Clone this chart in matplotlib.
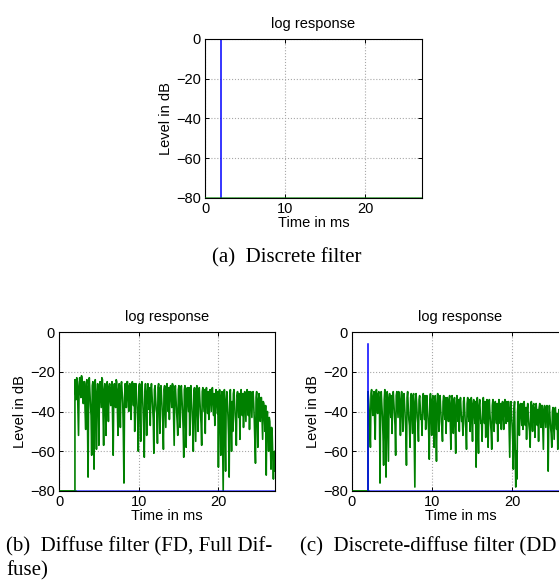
"""Log responses of discrete, diffuse and discrete-diffuse filters."""

import numpy as np
import matplotlib
matplotlib.use("Agg")
import matplotlib.pyplot as plt

plt.rcParams["font.family"] = ["Liberation Sans", "DejaVu Sans"]
plt.rcParams["font.size"] = 10

# ---- data (levels in dB) ----
FLOOR = -80.0          # level floor of the plot (values below are clipped)
T_END = 27.1           # length of the shown response, ms
T_IMPULSE = 2.0        # arrival of the direct / discrete impulse, ms
PEAK_A = 0.0           # discrete impulse level, filter (a)
PEAK_C = -6.0          # discrete impulse level, filter (c)
DT = 0.075             # sample spacing of the diffuse tails, ms

# diffuse tail, full diffuse filter (b), from T_IMPULSE on
diffuse_b = [
    -24, -30, -34, -23, -25, -38, -52, -27, -23, -29, -33, -22, -24, -31, -36, -25, -25, -40, -49, -26,
    -24, -45, -73, -28, -23, -30, -37, -42, -62, -27, -25, -50, -69, -26, -24, -38, -59, -31, -26, -33,
    -57, -30, -25, -32, -38, -23, -24, -41, -57, -29, -26, -37, -52, -27, -25, -33, -45, -28, -26, -34,
    -37, -28, -25, -44, -62, -30, -26, -33, -38, -24, -25, -39, -52, -29, -26, -36, -48, -27, -25, -31,
    -36, -52, -76, -33, -26, -31, -38, -25, -25, -34, -40, -27, -26, -35, -44, -28, -25, -30, -37, -26,
    -50, -29, -26, -32, -38, -45, -60, -28, -26, -39, -55, -27, -25, -32, -39, -48, -63, -30, -26, -34,
    -52, -31, -26, -33, -39, -28, -47, -30, -26, -32, -38, -44, -61, -29, -27, -34, -39, -41, -56, -28,
    -26, -36, -51, -28, -27, -33, -39, -46, -59, -29, -27, -38, -48, -28, -26, -33, -40, -28, -44, -30,
    -27, -32, -38, -26, -27, -42, -57, -30, -27, -34, -40, -45, -52, -29, -27, -38, -48, -31, -27, -33,
    -40, -48, -63, -29, -27, -43, -58, -31, -28, -34, -40, -28, -52, -30, -27, -35, -41, -47, -60, -30,
    -28, -41, -55, -29, -27, -38, -50, -30, -28, -35, -41, -46, -57, -30, -28, -34, -40, -29, -51, -31,
    -28, -34, -41, -30, -44, -32, -29, -35, -40, -29, -28, -36, -42, -31, -47, -33, -29, -35, -41, -30,
    -68, -38, -29, -44, -62, -33, -30, -55, -80, -35, -29, -48, -70, -34, -30, -36, -42, -52, -73, -32,
    -29, -44, -60, -35, -50, -31, -29, -36, -42, -46, -57, -32, -30, -37, -43, -31, -54, -34, -29, -35,
    -42, -31, -48, -33, -30, -38, -45, -31, -29, -37, -42, -30, -49, -34, -30, -36, -43, -31, -30, -36,
    -44, -55, -66, -33, -30, -42, -58, -34, -31, -39, -45, -33, -33, -44, -54, -35, -36, -42, -50, -37,
    -72, -44, -40, -51, -60, -43, -45, -58, -69, -48, -52, -64, -74, -62, -60, -70,
]

# diffuse tail, discrete-diffuse filter (c), from T_IMPULSE on
diffuse_c = [
    -30, -34, -40, -48, -58, -31, -29, -36, -42, -33, -30, -44, -54, -32, -29, -37, -41, -31, -30, -35,
    -76, -38, -30, -36, -43, -52, -67, -34, -29, -48, -73, -35, -30, -47, -65, -33, -31, -38, -43, -32,
    -51, -33, -30, -36, -42, -47, -62, -32, -30, -37, -43, -30, -31, -40, -52, -34, -30, -39, -50, -32,
    -31, -37, -43, -50, -67, -33, -30, -38, -44, -47, -58, -33, -31, -42, -51, -32, -31, -55, -78, -35,
    -31, -36, -43, -46, -55, -34, -32, -38, -44, -42, -52, -33, -31, -37, -44, -32, -49, -35, -32, -39,
    -44, -50, -64, -35, -31, -41, -52, -34, -32, -45, -58, -35, -32, -48, -65, -36, -31, -38, -50, -34,
    -32, -38, -45, -48, -55, -35, -32, -39, -44, -33, -51, -36, -33, -40, -45, -34, -32, -46, -59, -36,
    -32, -42, -51, -35, -33, -47, -61, -37, -32, -39, -45, -34, -50, -36, -33, -40, -45, -43, -52, -35,
    -33, -39, -46, -49, -59, -36, -33, -40, -45, -34, -50, -37, -33, -44, -55, -36, -34, -41, -46, -35,
    -68, -40, -33, -47, -61, -37, -34, -41, -46, -45, -55, -36, -33, -40, -46, -35, -53, -38, -34, -42,
    -58, -38, -34, -41, -46, -50, -59, -37, -34, -43, -50, -36, -35, -42, -46, -36, -55, -39, -34, -41,
    -46, -36, -49, -38, -35, -43, -49, -36, -34, -41, -46, -35, -45, -39, -35, -48, -63, -38, -35, -42,
    -47, -55, -69, -39, -35, -55, -78, -60, -74, -40, -35, -44, -52, -37, -36, -42, -47, -36, -49, -38,
    -35, -42, -47, -38, -54, -39, -36, -43, -47, -50, -58, -38, -35, -44, -50, -37, -36, -45, -53, -38,
    -36, -42, -47, -39, -55, -38, -36, -44, -48, -37, -37, -48, -59, -39, -37, -43, -48, -38, -37, -44,
    -70, -44, -37, -43, -48, -51, -58, -40, -38, -46, -54, -39, -38, -45, -49, -41, -59, -42, -39, -47,
    -55, -44, -42, -53, -62, -47, -48, -60, -70, -52, -55, -66, -75, -63, -65, -72,
]

X_TICKS = [0, 10, 20]
Y_TICKS = [0, -20, -40, -60, -80]

GREEN = "#008000"
BLUE = "#0000ff"

W, H = 559, 583


def tail(values):
    """Diffuse tail preceded by the silent part before the first arrival."""
    t = T_IMPULSE + DT * np.arange(len(values))
    x = np.concatenate([[0.0, T_IMPULSE], t])
    y = np.concatenate([[FLOOR, FLOOR], values])
    return x, y


def floor_line(ax, start, end, color):
    # parts sitting at the level floor lie on the bottom spine
    ax.plot([start, end], [FLOOR, FLOOR], color=color, linewidth=2.0,
            alpha=0.65, zorder=3)


def style_axes(ax):
    ax.set_xlim(0, T_END)
    ax.set_ylim(FLOOR, 0)
    ax.set_xticks(X_TICKS)
    ax.set_yticks(Y_TICKS)
    ax.grid(True, linestyle=":", color="#a8a8a8", linewidth=0.8)
    ax.tick_params(direction="in", length=3, width=0.7, top=True, right=True,
                   labelsize=10.5, pad=3)
    for sp in ax.spines.values():
        sp.set_linewidth(0.8)
    ax.set_title("log response", fontsize=10.5, pad=8)
    ax.set_xlabel("Time in ms", fontsize=10.5, labelpad=0)
    ax.set_ylabel("Level in dB", fontsize=10.5, labelpad=2)


def axes_px(fig, left, top, width, height):
    return fig.add_axes([left / W, 1 - (top + height) / H, width / W, height / H])


fig = plt.figure(figsize=(W / 100, H / 100), dpi=100)

# (a) discrete filter
ax_a = axes_px(fig, 205, 39, 217, 159)
ax_a.plot([T_IMPULSE, T_IMPULSE], [FLOOR, PEAK_A], color=BLUE, linewidth=1.1)
floor_line(ax_a, 0.0, T_END, GREEN)
style_axes(ax_a)

# (b) diffuse filter
ax_b = axes_px(fig, 59, 332, 216, 159)
floor_line(ax_b, T_IMPULSE, T_END, BLUE)
ax_b.plot(*tail(diffuse_b), color=GREEN, linewidth=1.2)
floor_line(ax_b, 0.0, T_IMPULSE, GREEN)
style_axes(ax_b)

# (c) discrete-diffuse filter (runs off the right edge of the page)
ax_c = axes_px(fig, 352, 332, 217, 159)
ax_c.plot(*tail(diffuse_c), color=GREEN, linewidth=1.2)
floor_line(ax_c, 0.0, T_IMPULSE, GREEN)
ax_c.plot([T_IMPULSE, T_IMPULSE], [FLOOR, PEAK_C], color=BLUE, linewidth=1.1)
floor_line(ax_c, T_IMPULSE, T_END, BLUE)
style_axes(ax_c)

serif = ["Liberation Serif", "DejaVu Serif"]
cap = dict(family=serif, fontsize=15, va="center")
fig.text(287 / W, 1 - 258 / H, "(a)  Discrete filter", ha="center", **cap)
fig.text(6 / W, 1 - 547 / H, "(b)  Diffuse filter (FD, Full Dif-", ha="left", **cap)
fig.text(6 / W, 1 - 571 / H, "fuse)", ha="left", **cap)
fig.text(300 / W, 1 - 547 / H, "(c)  Discrete-diffuse filter (DD", ha="left", **cap)

fig.savefig("out.png", dpi=100)
